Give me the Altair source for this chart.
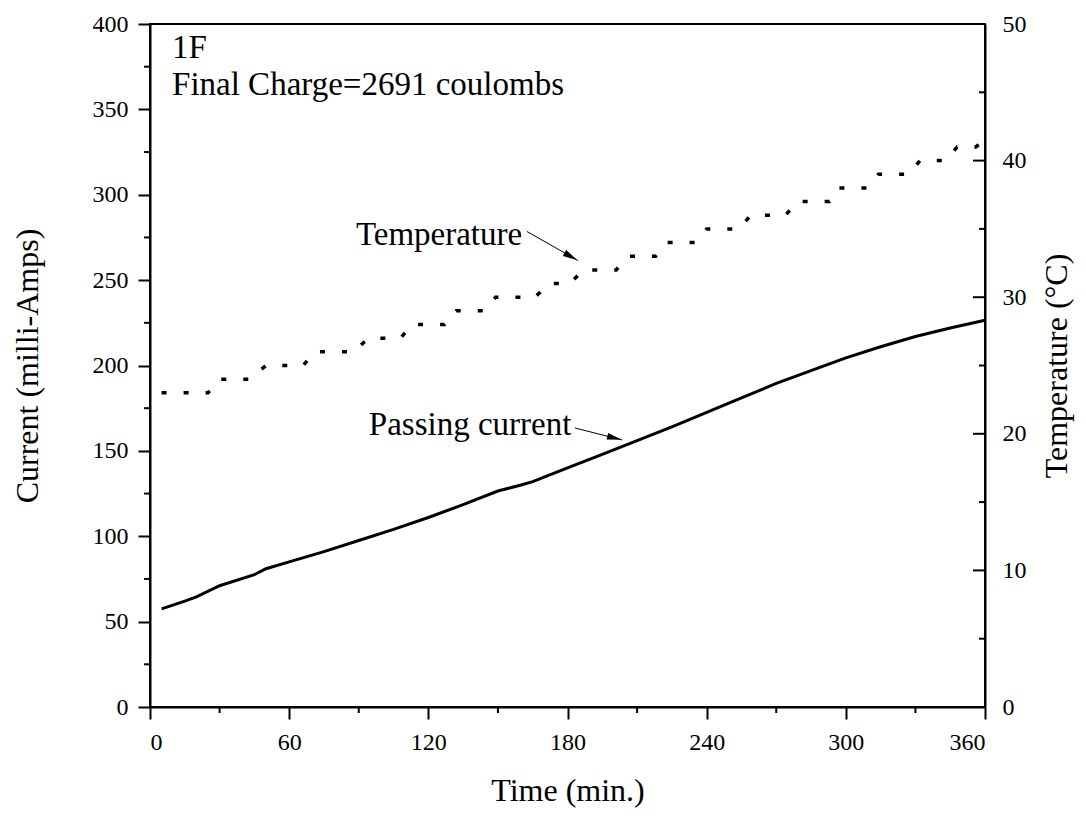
import altair as alt
import pandas as pd

# Passing current (mA) vs time (min)
cur_time = [5, 15, 20, 30, 45, 50, 60, 75, 90, 105, 120, 135, 150, 160, 165, 180,
            195, 210, 225, 240, 255, 270, 285, 300, 315, 330, 345, 360]
cur_vals = [57.5, 62, 64.5, 71, 77.5, 81, 85, 91, 97.5, 104, 111, 118.5, 126.5, 130, 132, 140,
            148, 156, 164, 172.5, 181, 189.5, 197, 204.5, 211, 217, 222, 226.5]

# Temperature (°C) vs time (min)
temp_time = [5, 25, 30, 43, 50, 66, 71, 88, 94, 108, 113, 127, 132, 144, 149, 166, 172, 181,
             187, 201, 206, 218, 223, 235, 240, 254, 259, 274, 279, 293, 297, 309, 314, 327,
             332, 343, 348, 356, 360]
temp_vals = [23, 23, 24, 24, 25, 25, 26, 26, 27, 27, 28, 28, 29, 29, 30, 30, 31, 31,
             32, 32, 33, 33, 34, 34, 35, 35, 36, 36, 37, 37, 38, 38, 39, 39,
             40, 40, 41, 41, 41.5]

x_major = [0, 60, 120, 180, 240, 300, 360]
x_minor = [30, 90, 150, 210, 270, 330]
y_major = [0, 50, 100, 150, 200, 250, 300, 350, 400]
y_minor = [25, 75, 125, 175, 225, 275, 325, 375]
t_major = [0, 10, 20, 30, 40, 50]
t_minor = [5, 15, 25, 35, 45]

W, H = 835, 683
FONT = "Liberation Serif"
ARROW = "M 1 0 L -1 -0.45 L -1 0.45 Z"

df_cur = pd.DataFrame({"t": cur_time, "current": cur_vals})
df_temp = pd.DataFrame({"t": temp_time, "temp": temp_vals})

xs = alt.Scale(domain=[0, 360], nice=False, zero=False)
ys = alt.Scale(domain=[0, 400], nice=False)
ts = alt.Scale(domain=[0, 50], nice=False)

x_axis = alt.Axis(values=x_major, title="Time (min.)", tickSize=12, labelPadding=11,
                  titlePadding=21, grid=False)

cur_line = alt.Chart(df_cur).mark_line(color="black", strokeWidth=3).encode(
    x=alt.X("t:Q", scale=xs, axis=x_axis),
    y=alt.Y("current:Q", scale=ys,
            axis=alt.Axis(values=y_major, title="Current (milli-Amps)", tickSize=12,
                          labelPadding=10, titlePadding=48, grid=False)),
)

minor_y = alt.Chart(pd.DataFrame({"current": y_minor})).mark_rule(
    color="black", strokeWidth=2).encode(
    y=alt.Y("current:Q", scale=ys), x=alt.value(-6), x2=alt.value(0))

minor_x = alt.Chart(pd.DataFrame({"t": x_minor})).mark_rule(
    color="black", strokeWidth=2).encode(
    x=alt.X("t:Q", scale=xs, axis=x_axis), y=alt.value(H), y2=alt.value(H + 6))

# annotations (in time / current units)
ann_t = [9.5, 9.5, 124.6, 138]
ann_c = [386, 364.3, 276.4, 165.2]
ann_txt = ["1F", "Final Charge=2691 coulombs", "Temperature", "Passing current"]
ann_align = ["left", "left", "center", "center"]
df_ann = pd.DataFrame({"t": ann_t, "current": ann_c, "label": ann_txt, "al": ann_align})

txt_left = alt.Chart(df_ann[df_ann.al == "left"]).mark_text(
    font=FONT, fontSize=33, align="left", baseline="middle", color="black").encode(
    x=alt.X("t:Q", scale=xs), y=alt.Y("current:Q", scale=ys), text="label:N")
txt_center = alt.Chart(df_ann[df_ann.al == "center"]).mark_text(
    font=FONT, fontSize=33, align="center", baseline="middle", color="black").encode(
    x=alt.X("t:Q", scale=xs), y=alt.Y("current:Q", scale=ys), text="label:N")

arr_t0 = [162.5, 183.2]
arr_c0 = [278.5, 163.4]
arr_t1 = [184.5, 203.5]
arr_c1 = [261.5, 156.4]
df_arr = pd.DataFrame({"t": arr_t0, "current": arr_c0, "t2": arr_t1, "c2": arr_c1})
arrows = alt.Chart(df_arr).mark_rule(color="black", strokeWidth=1).encode(
    x=alt.X("t:Q", scale=xs), y=alt.Y("current:Q", scale=ys), x2="t2:Q", y2="c2:Q")

head_t = [181.5, 200.3]
head_c = [263.8, 157.5]
df_head1 = pd.DataFrame({"t": [head_t[0]], "current": [head_c[0]]})
df_head2 = pd.DataFrame({"t": [head_t[1]], "current": [head_c[1]]})
head1 = alt.Chart(df_head1).mark_point(
    shape=ARROW, filled=True, color="black", size=220, angle=29, opacity=1,
    strokeWidth=0).encode(x=alt.X("t:Q", scale=xs), y=alt.Y("current:Q", scale=ys))
head2 = alt.Chart(df_head2).mark_point(
    shape=ARROW, filled=True, color="black", size=220, angle=14, opacity=1,
    strokeWidth=0).encode(x=alt.X("t:Q", scale=xs), y=alt.Y("current:Q", scale=ys))

left = alt.layer(cur_line, minor_y, minor_x, txt_left, txt_center, arrows, head1, head2)

temp_line = alt.Chart(df_temp).mark_line(
    color="black", strokeWidth=3.5, strokeDash=[5, 17]).encode(
    x=alt.X("t:Q", scale=xs),
    y=alt.Y("temp:Q", scale=ts,
            axis=alt.Axis(values=t_major, orient="right", title="Temperature (°C)",
                          ticks=False, labelPadding=17, titlePadding=15, titleAngle=270,
                          titleBaseline="top", grid=False)),
)
temp_major = alt.Chart(pd.DataFrame({"temp": t_major})).mark_rule(
    color="black", strokeWidth=2).encode(
    y=alt.Y("temp:Q", scale=ts), x=alt.value(W - 12), x2=alt.value(W))
temp_minor = alt.Chart(pd.DataFrame({"temp": t_minor})).mark_rule(
    color="black", strokeWidth=2).encode(
    y=alt.Y("temp:Q", scale=ts), x=alt.value(W - 6), x2=alt.value(W))

right = alt.layer(temp_line, temp_major, temp_minor)

chart = alt.layer(left, right).resolve_scale(y="independent").properties(
    width=W, height=H,
    background="white",
    autosize=alt.AutoSizeParams(type="none"),
    padding={"left": 142, "top": 16, "right": 92, "bottom": 106},
).configure_view(stroke="black", strokeWidth=2).configure_axis(
    domainColor="black", domainWidth=2, tickColor="black", tickWidth=2,
    labelFont=FONT, labelFontSize=24, labelColor="black",
    titleFont=FONT, titleFontSize=32, titleFontWeight="normal", titleColor="black",
)

chart.save("out.html", embed_options={"renderer": "svg", "actions": False})
